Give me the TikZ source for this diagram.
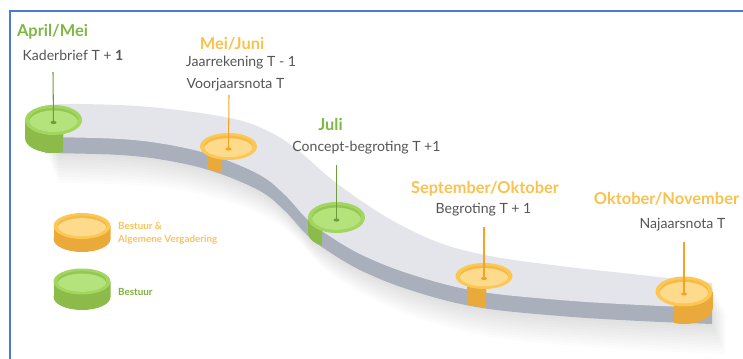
\documentclass[tikz,border=0pt]{standalone}
\usepackage{fontspec}
\setmainfont{Lato}

\definecolor{roadtop}{HTML}{E4E5EA}
\definecolor{roadside}{HTML}{A9B0BC}
\definecolor{grnside}{HTML}{8CBB4A}
\definecolor{grnrim}{HTML}{A2D65E}
\definecolor{grnwall}{HTML}{94C655}
\definecolor{grnfloor}{HTML}{B5E37B}
\definecolor{grntext}{HTML}{7DB843}
\definecolor{grnpole}{HTML}{6E9C38}
\definecolor{orside}{HTML}{E9A93B}
\definecolor{orrim}{HTML}{FCC850}
\definecolor{orwall}{HTML}{F4BA4A}
\definecolor{orfloor}{HTML}{FDDA8C}
\definecolor{ortext}{HTML}{F9C24F}
\definecolor{orpole}{HTML}{F5A326}
\definecolor{orlegend}{HTML}{F8C35C}
\definecolor{grnlegend}{HTML}{7EAF3F}
\definecolor{frameblue}{HTML}{4A7BD3}
\definecolor{txtgray}{HTML}{555555}

\tikzset{
  month/.style={anchor=base, font=\fontsize{14}{16}\selectfont\bfseries},
  task/.style={anchor=base, text=txtgray, font=\fontsize{12}{14}\selectfont},
  legendtext/.style={anchor=west, align=left, font=\fontsize{8.4}{11}\selectfont\bfseries},
  pole/.style={line width=0.9pt},
}

% #1 name, #2 cx, #3 cy, #4 y radius, #5 side height, #6/#7 side from x to x, #8 colour
\newcommand{\schijf}[8]{
  \begin{scope}
    \clip (#6,#3) rectangle (#7,#3+#4+#5+1);
    \fill[#8side] (#2,#3+#5) ellipse [x radius=28.5, y radius=#4];
    \fill[#8side] (#2-28.5,#3) rectangle (#2+28.5,#3+#5);
  \end{scope}
  \fill[#8rim] (#2,#3) ellipse [x radius=28.5, y radius=#4];
  \fill[#8wall] (#2,#3) ellipse [x radius=24.5, y radius=0.8*#4];
  \begin{scope}
    \clip (#2,#3) ellipse [x radius=24.5, y radius=0.8*#4];
    \fill[#8floor] (#2,#3+2.5) ellipse [x radius=24.5, y radius=0.8*#4];
  \end{scope}
  \coordinate (#1) at (#2,#3+2.5);
}

\begin{document}
\begin{tikzpicture}[x=0.03cm, y=-0.03cm]
\useasboundingbox (0,0) rectangle (743,359);
\draw[frameblue, line width=1.6pt] (10,359) -- (10,11) -- (743,11);

\foreach \s in {3,6,...,30}
  \fill[black, opacity=0.013, shift={(\s*0.45,\s)}] plot[smooth, tension=0.6] coordinates {(45,105) (80,104) (150,107) (230,118) (270,132) (300,152) (330,178) (360,200) (395,222) (440,243) (490,256) (560,266) (650,276) (712,283)} -- plot[smooth, tension=0.6] coordinates {(712,324) (640,321) (560,316) (476,307) (410,290) (360,270) (322,247) (305,233) (285,211) (260,191) (215,172) (170,161) (120,155) (45,153)} -- cycle;
\foreach \dy/\kleur in {16/roadside, 0/roadtop}
  \fill[\kleur, shift={(0,\dy)}] plot[smooth, tension=0.6] coordinates {(45,105) (80,104) (150,107) (230,118) (270,132) (300,152) (330,178) (360,200) (395,222) (440,243) (490,256) (560,266) (650,276) (712,283)} -- plot[smooth, tension=0.6] coordinates {(712,308) (640,305) (560,300) (476,291) (410,274) (360,254) (322,231) (305,217) (285,195) (260,175) (215,156) (170,145) (120,139) (45,137)} -- cycle;

\schijf{aprilschijf}{53.5}{120}{15}{18}{25}{63}{grn}
\schijf{juni}{228.5}{146.5}{13.5}{13}{207}{222}{or}
\schijf{julischijf}{336.5}{217.5}{15.5}{15}{308}{322}{grn}
\schijf{oktober}{484}{276}{13}{18}{467}{486}{or}
\schijf{november}{684}{291.5}{15}{17.5}{674}{713}{or}
\schijf{legor}{82}{226}{13}{13}{53.5}{110.5}{or}
\schijf{leggrn}{82}{281.5}{13}{15.5}{53.5}{110.5}{grn}

\coordinate (aprilpaal) at (53,72);
\coordinate (junipaal) at (229,95);
\coordinate (julipaal) at (336.5,165);
\coordinate (oktoberpaal) at (484,227);
\coordinate (novemberpaal) at (684,242);
\draw[pole, grnpole] (aprilpaal) -- (aprilschijf);
\draw[pole, orpole] (junipaal) -- (juni);
\draw[pole, grnpole] (julipaal) -- (julischijf);
\draw[pole, orpole] (oktoberpaal) -- (oktober);
\draw[pole, orpole] (novemberpaal) -- (november);
\fill[grnpole] (aprilschijf) ellipse [x radius=3, y radius=1.6];
\fill[orpole] (juni) ellipse [x radius=3, y radius=1.6];
\fill[grnpole] (julischijf) ellipse [x radius=3, y radius=1.6];
\fill[orpole] (oktober) ellipse [x radius=3, y radius=1.6];
\fill[orpole] (november) ellipse [x radius=3, y radius=1.6];

\node[month, text=grntext] (aprilmei) at (52.5,36) {April/Mei};
\node[task] (kaderbrief) at (73,60) {Kaderbrief T + \textbf{1}};
\node[month, text=ortext] (meijuni) at (232,49) {Mei/Juni};
\node[task] (jaarrekening) at (241,66) {Jaarrekening T - 1};
\node[task] (voorjaarsnota) at (235.5,88) {Voorjaarsnota T};
\node[month, text=grntext] (juli) at (330.5,130) {Juli};
\node[task] (concept) at (366.5,151) {Concept-begroting T +1};
\node[month, text=ortext] (septokt) at (485,193) {September/Oktober};
\node[task] (begroting) at (483.5,213) {Begroting T + 1};
\node[month, text=ortext] (oktnov) at (666.5,204) {Oktober/November};
\node[task] (najaarsnota) at (682.5,228) {Najaarsnota T};

\node[legendtext, text=orlegend] (legbestuurav) at (114,233.5) {Bestuur \&\\Algemene Vergadering};
\node[legendtext, text=grnlegend] (legbestuur) at (114,292) {Bestuur};
\end{tikzpicture}
\end{document}
